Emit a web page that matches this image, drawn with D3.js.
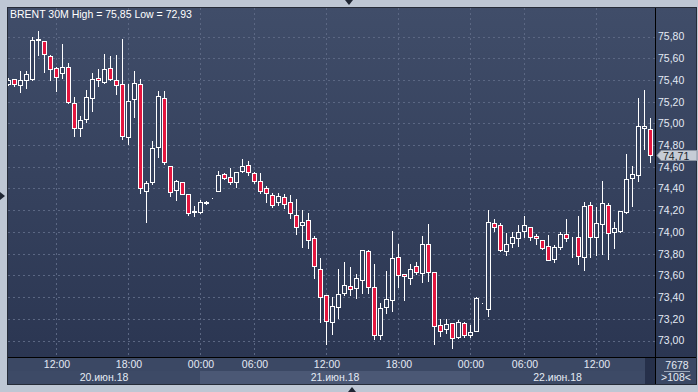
<!DOCTYPE html>
<html>
<head>
<meta charset="utf-8">
<script src="https://cdn.jsdelivr.net/npm/d3@7"></script>
<style>
body{margin:0;background:#bec7d4;}
svg{display:block;font-family:"Liberation Sans",Arial,sans-serif;}
</style>
</head>
<body>
<div id="chart"></div>
<script>
// BRENT 30M candles, 108 bars visible
const opens  = [75.36,75.41,75.35,75.40,75.41,75.77,75.76,75.62,75.51,75.46,75.52,75.19,74.96,75.04,75.23,75.42,75.38,75.51,75.40,75.36,
  74.87,75.22,75.36,74.38,74.46,74.78,75.23,74.61,74.39,74.46,74.35,74.18,74.18,74.265,74.31,74.38,74.53,74.51,74.46,74.56,
  74.62,74.54,74.47,74.40,74.34,74.28,74.32,74.28,74.16,74.06,74.11,73.94,73.66,73.42,73.17,73.31,73.44,73.50,73.48,73.56,
  73.82,73.49,73.05,73.31,73.37,73.77,73.61,73.58,73.69,73.62,73.89,73.63,73.14,73.11,73.16,73.03,73.16,73.05,73.09,73.35,
  73.29,74.08,74.06,73.82,73.90,73.94,74.01,74.05,73.96,73.93,73.87,73.75,73.86,73.98,73.94,73.95,73.77,74.25,73.95,74.07,
  74.25,74.00,74.01,74.18,74.50,74.52,74.96,74.95];
const highs  = [75.42,75.41,75.48,75.48,75.80,75.85,75.76,75.63,75.52,75.73,75.56,75.24,75.07,75.31,75.46,75.50,75.64,75.62,75.63,75.78,
  75.36,75.48,75.41,74.47,74.84,75.30,75.30,74.61,74.48,74.46,74.35,74.24,74.29,74.285,74.31,74.56,74.54,74.59,74.55,74.67,
  74.65,74.55,74.54,74.42,74.36,74.36,74.35,74.34,74.30,74.20,74.17,73.96,73.76,73.42,73.40,73.66,73.72,73.68,73.61,73.83,
  73.83,73.70,73.35,73.64,74.01,73.89,73.61,73.70,73.72,73.96,74.07,73.63,73.20,73.20,73.16,73.19,73.17,73.14,73.40,73.35,
  74.20,74.12,74.08,73.99,74.00,74.06,74.15,74.05,73.98,73.93,73.97,73.88,74.00,74.12,73.95,74.15,74.28,74.28,74.23,74.47,
  74.27,74.09,74.19,74.72,74.61,75.23,75.31,75.05];
const lows   = [75.35,75.34,75.29,75.33,75.40,75.63,75.47,75.40,75.30,75.42,75.19,74.88,74.88,75.01,75.11,75.34,75.37,75.40,75.27,74.86,
  74.81,75.06,74.36,74.09,74.44,74.69,74.63,74.33,74.29,74.35,74.16,74.15,74.17,74.255,74.31,74.38,74.49,74.44,74.41,74.55,
  74.52,74.45,74.36,74.28,74.23,74.25,74.22,74.13,73.98,73.86,73.85,73.58,73.17,72.97,73.06,73.21,73.42,73.42,73.39,73.44,
  73.44,73.01,73.01,73.25,73.27,73.49,73.37,73.52,73.61,73.54,73.55,72.97,73.04,73.07,72.93,73.02,73.03,73.03,73.09,73.35,
  73.23,74.01,73.82,73.79,73.86,73.87,73.95,73.93,73.89,73.84,73.74,73.72,73.84,73.92,73.77,73.70,73.65,73.77,73.79,73.80,
  73.75,73.85,74.00,74.17,74.24,74.47,74.76,74.64];
const closes = [75.40,75.36,75.40,75.45,75.77,75.78,75.64,75.50,75.43,75.52,75.20,74.96,75.03,75.24,75.41,75.40,75.50,75.41,75.35,74.88,
  75.21,75.37,74.40,74.45,74.77,75.25,74.64,74.37,74.47,74.35,74.17,74.19,74.28,74.275,74.31,74.52,74.50,74.46,74.55,74.61,
  74.55,74.47,74.38,74.36,74.25,74.33,74.26,74.17,74.05,74.09,73.93,73.69,73.40,73.18,73.32,73.43,73.51,73.47,73.58,73.83,
  73.49,73.05,73.30,73.38,73.76,73.60,73.59,73.66,73.63,73.89,73.63,73.13,73.09,73.15,73.02,73.17,73.05,73.08,73.39,73.35,
  74.09,74.05,73.83,73.89,73.95,74.00,74.06,73.95,73.94,73.85,73.74,73.86,73.98,73.94,73.94,73.78,74.24,73.95,74.08,74.27,
  73.99,74.04,74.19,74.49,74.53,74.98,74.98,74.71];

const priceTicks = [73.0,73.2,73.4,73.6,73.8,74.0,74.2,74.4,74.6,74.8,75.0,75.2,75.4,75.6,75.8];
const timeTickIdx = [8,20,32,41,53,65,77,86,98];
const timeTickLabels = ["12:00","18:00","00:00","06:00","12:00","18:00","00:00","06:00","12:00"];
const dayLabels = ["20.июн.18","21.июн.18","22.июн.18"];
const dayStartIdx = [0,32,77];
const dayEndIdx = [32,77,106.2];
const lastPrice = 74.71;
const headerText = "BRENT 30M High = 75,85 Low = 72,93";
const volumeText = "7678", barsText = ">108<";

const W = 698, H = 392;
const plot = {left: 8, right: 655, top: 8, bottom: 357};
const panelRight = 696, panelBottom = 384;

const data = opens.map((o, i) => ({i: i, o: o, h: highs[i], l: lows[i], c: closes[i]}));

const svg = d3.select("#chart").append("svg").attr("width", W).attr("height", H);

const defs = svg.append("defs");
const grad = defs.append("linearGradient").attr("id", "bg").attr("x1", 0).attr("y1", 0).attr("x2", 0).attr("y2", 1);
grad.append("stop").attr("offset", "0%").attr("stop-color", "#404d69");
grad.append("stop").attr("offset", "100%").attr("stop-color", "#2b3652");
defs.append("clipPath").attr("id", "clip").append("rect")
  .attr("x", plot.left).attr("y", plot.top).attr("width", plot.right - plot.left).attr("height", plot.bottom - plot.top);

// frame
svg.append("rect").attr("x", 0).attr("y", 0).attr("width", W).attr("height", H).attr("fill", "#bec7d4");
svg.append("rect").attr("x", plot.left - 0.5).attr("y", plot.top - 0.5)
  .attr("width", panelRight - plot.left + 1).attr("height", panelBottom - plot.top + 1)
  .attr("fill", "#3b4864").attr("stroke", "#262c38");
svg.append("rect").attr("x", plot.left).attr("y", plot.top)
  .attr("width", panelRight - plot.left).attr("height", plot.bottom - plot.top).attr("fill", "url(#bg)");

// little arrows on the frame
svg.append("path").attr("d", "M345,0L353,0L349,5Z").attr("fill", "#1f2633");
svg.append("path").attr("d", "M0,192L0,200L5,196Z").attr("fill", "#1f2633");
svg.append("path").attr("d", "M348,392L356,392L352,387Z").attr("fill", "#1f2633");

const x = d3.scaleLinear().domain([0, 108]).range([8, 656]);
const y = d3.scaleLinear().domain([73, 75.8]).range([340.5, 36.5]);

// day shading in the bottom band
svg.selectAll(".dayband").data(dayLabels).enter().append("rect")
  .attr("class", "dayband")
  .attr("x", (d, i) => x(dayStartIdx[i]))
  .attr("y", 371)
  .attr("width", (d, i) => x(dayEndIdx[i]) - x(dayStartIdx[i]))
  .attr("height", panelBottom - 371)
  .attr("fill", (d, i) => i === 1 ? "#4b5875" : "#3d4a66");
svg.append("rect").attr("x", 645).attr("y", 358).attr("width", 10).attr("height", panelBottom - 358).attr("fill", "#26304a");

// grid
const grid = svg.append("g");
grid.selectAll(".hg").data(priceTicks).enter().append("line")
  .attr("x1", plot.left).attr("x2", plot.right)
  .attr("y1", d => Math.round(y(d)) + 0.5).attr("y2", d => Math.round(y(d)) + 0.5)
  .attr("stroke", "#5b6783").attr("stroke-dasharray", "2,3");
grid.selectAll(".vg").data(timeTickIdx).enter().append("line")
  .attr("x1", d => x(d) + 0.5).attr("x2", d => x(d) + 0.5)
  .attr("y1", plot.top).attr("y2", plot.bottom)
  .attr("stroke", "#5b6783").attr("stroke-dasharray", "2,3");

// candles
const cg = svg.append("g").attr("clip-path", "url(#clip)");
const candle = cg.selectAll(".candle").data(data).enter().append("g").attr("class", "candle");
candle.append("line")
  .attr("x1", d => x(d.i) + 0.5).attr("x2", d => x(d.i) + 0.5)
  .attr("y1", d => Math.round(y(d.h))).attr("y2", d => Math.round(y(d.l)) + 1)
  .attr("stroke", "#ffffff");
candle.append("rect")
  .attr("x", d => x(d.i) - 1.5)
  .attr("y", d => Math.round(y(Math.max(d.o, d.c))) + 0.5)
  .attr("width", 4)
  .attr("height", d => Math.max(0, Math.round(y(Math.min(d.o, d.c))) - Math.round(y(Math.max(d.o, d.c)))))
  .attr("fill", d => d.c < d.o ? "#e3163f" : "#34405c")
  .attr("stroke", "#ffffff");

// axis lines
svg.append("line").attr("x1", plot.right + 0.5).attr("x2", plot.right + 0.5).attr("y1", plot.top).attr("y2", panelBottom)
  .attr("stroke", "#000");
svg.append("line").attr("x1", plot.left).attr("x2", panelRight).attr("y1", plot.bottom + 0.5).attr("y2", plot.bottom + 0.5)
  .attr("stroke", "#000");

// price axis
const yAxis = d3.axisRight(y).tickValues(priceTicks).tickSize(0).tickPadding(0)
  .tickFormat(d => d3.format(".2f")(d).replace(".", ","));
const ya = svg.append("g").attr("transform", `translate(${plot.right + 3},0)`).call(yAxis);
ya.select(".domain").remove();
ya.selectAll("text").attr("fill", "#e4eaf4").attr("font-size", 10.5).attr("font-family", "Liberation Sans, Arial, sans-serif");

// time axis
const xAxis = d3.axisBottom(x).tickValues(timeTickIdx).tickSize(0).tickPadding(0)
  .tickFormat((d, i) => timeTickLabels[i]);
const xa = svg.append("g").attr("transform", `translate(0.5,${plot.bottom + 4})`).call(xAxis);
xa.select(".domain").remove();
xa.selectAll("text").attr("fill", "#e4eaf4").attr("font-size", 10.5).attr("font-family", "Liberation Sans, Arial, sans-serif");

svg.selectAll(".daylabel").data(dayLabels).enter().append("text")
  .attr("x", (d, i) => (x(dayStartIdx[i]) + x(dayEndIdx[i])) / 2)
  .attr("y", 381)
  .attr("text-anchor", "middle").attr("font-size", 10.5).attr("fill", "#e4eaf4")
  .text(d => d);

// last price marker
const ly = Math.round(y(lastPrice)) + 0.5;
svg.append("path").attr("d", `M657,${ly}L661,${ly - 5}L697,${ly - 5}L697,${ly + 5}L661,${ly + 5}Z`)
  .attr("fill", "#c6ccd6").attr("stroke", "#8d95a3");
svg.append("text").attr("x", 663).attr("y", ly + 4).attr("font-size", 10.5).attr("fill", "#1a1f2a")
  .text(d3.format(".2f")(lastPrice).replace(".", ","));

// header
svg.append("text").attr("x", 10).attr("y", 18).attr("font-size", 10.5).attr("fill", "#ffffff").text(headerText);

// bottom right info
svg.append("text").attr("x", 677).attr("y", 369).attr("text-anchor", "middle").attr("font-size", 10.5).attr("fill", "#e4eaf4").text(volumeText);
svg.append("line").attr("x1", 664).attr("x2", 690).attr("y1", 371.5).attr("y2", 371.5).attr("stroke", "#9aa5b8");
svg.append("text").attr("x", 676).attr("y", 381).attr("text-anchor", "middle").attr("font-size", 10.5).attr("fill", "#e4eaf4").text(barsText);
</script>
</body>
</html>
